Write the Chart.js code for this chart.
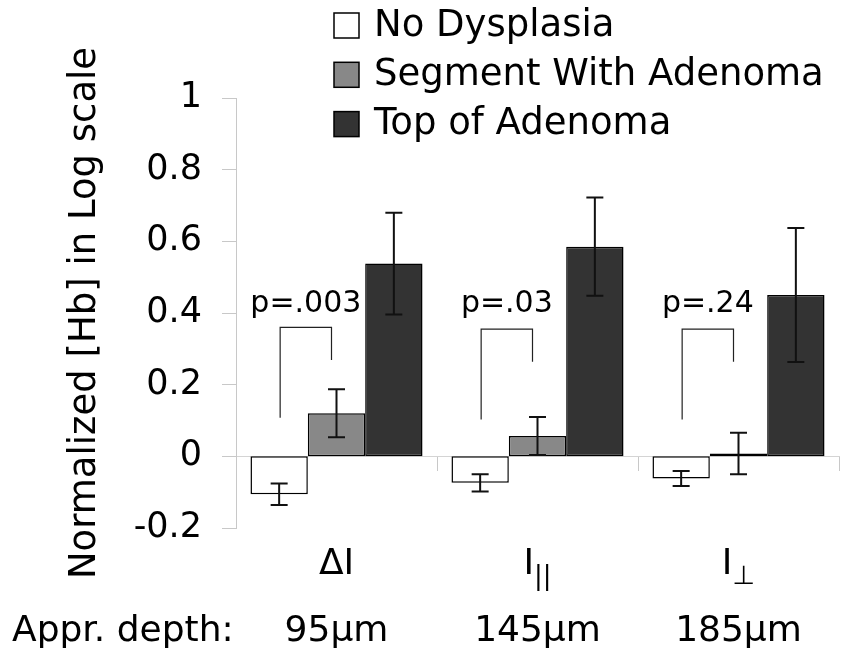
<!DOCTYPE html>
<html>
<head>
<meta charset="utf-8">
<script src="https://cdn.jsdelivr.net/npm/chart.js@4"></script>
<style>
  body { margin: 0; background: #fff; }
  #wrap { width: 849px; height: 672px; }
</style>
</head>
<body>
<div id="wrap"><canvas id="hbChart" width="849" height="672"></canvas></div>
<script>
// Data
const categories = ['ΔI', 'I||', 'I⊥'];
const categorySubscripts = ['', '||', '⊥'];
const depths = ['95μm', '145μm', '185μm'];
const seriesNames = ['No Dysplasia', 'Segment With Adenoma', 'Top of Adenoma'];

const noDysplasia = [-0.106, -0.074, -0.062];
const noDysplasiaErr = [0.03, 0.024, 0.021];
const segmentAdenoma = [0.12, 0.057, 0.008];
const segmentAdenomaErr = [0.067, 0.053, 0.058];
const topAdenoma = [0.538, 0.585, 0.45];
const topAdenomaErr = [0.142, 0.137, 0.187];

const pLabels = ['p=.003', 'p=.03', 'p=.24'];
const bracketTop = [0.36, 0.355, 0.355];
const bracketLeftEnd = [0.108, 0.103, 0.103];
const bracketRightEnd = [0.269, 0.264, 0.264];
const pLabelLevel = [0.404, 0.404, 0.404];

const errors = [noDysplasiaErr, segmentAdenomaErr, topAdenomaErr];
const FONT = "'DejaVu Sans', Verdana, sans-serif";

Chart.defaults.font.family = FONT;
Chart.defaults.color = '#000';

const extras = {
    id: 'extras',
    afterDatasetsDraw(chart) {
        const ctx = chart.ctx;
        const ys = chart.scales.y;
        ctx.save();

        // error bars
        ctx.strokeStyle = '#111';
        ctx.lineWidth = 2;
        chart.data.datasets.forEach((ds, d) => {
            const meta = chart.getDatasetMeta(d);
            meta.data.forEach((bar, i) => {
                const v = ds.data[i], e = errors[d][i];
                const yHi = ys.getPixelForValue(v + e);
                const yLo = ys.getPixelForValue(v - e);
                ctx.beginPath();
                ctx.moveTo(bar.x, yHi); ctx.lineTo(bar.x, yLo);
                ctx.moveTo(bar.x - 8.5, yHi); ctx.lineTo(bar.x + 8.5, yHi);
                ctx.moveTo(bar.x - 8.5, yLo); ctx.lineTo(bar.x + 8.5, yLo);
                ctx.stroke();
            });
        });

        // significance brackets
        const m0 = chart.getDatasetMeta(0), m1 = chart.getDatasetMeta(1);
        ctx.strokeStyle = '#222';
        ctx.lineWidth = 1.2;
        ctx.font = '30px ' + FONT;
        ctx.fillStyle = '#000';
        ctx.textAlign = 'center';
        ctx.textBaseline = 'alphabetic';
        pLabels.forEach((p, i) => {
            const xl = m0.data[i].x + 1;
            const xr = m1.data[i].x - 5;
            const yt = ys.getPixelForValue(bracketTop[i]);
            ctx.beginPath();
            ctx.moveTo(xl, ys.getPixelForValue(bracketLeftEnd[i]));
            ctx.lineTo(xl, yt);
            ctx.lineTo(xr, yt);
            ctx.lineTo(xr, ys.getPixelForValue(bracketRightEnd[i]));
            ctx.stroke();
            ctx.fillText(p, (xl + xr) / 2, ys.getPixelForValue(pLabelLevel[i]));
        });
        ctx.restore();
    },
    afterDraw(chart) {
        const ctx = chart.ctx;
        const xs = chart.scales.x;
        ctx.save();
        ctx.fillStyle = '#000';
        ctx.textBaseline = 'middle';

        // category labels with subscripts, and depths
        categories.forEach((cat, i) => {
            const x = xs.getPixelForValue(i);
            const sub = categorySubscripts[i];
            const main = sub ? cat.slice(0, cat.length - sub.length) : cat;
            ctx.font = '36px ' + FONT;
            const w1 = ctx.measureText(main).width;
            ctx.font = '26px ' + FONT;
            const w2 = sub ? ctx.measureText(sub).width : 0;
            const x0 = x - (w1 + w2) / 2;
            ctx.textAlign = 'left';
            ctx.font = '36px ' + FONT;
            ctx.fillText(main, x0, 565);
            if (sub) {
                ctx.font = '26px ' + FONT;
                ctx.fillText(sub, x0 + w1, 577);
            }
            ctx.font = '36px ' + FONT;
            ctx.textAlign = 'center';
            ctx.fillText(depths[i], x, 632);
        });
        ctx.textAlign = 'left';
        ctx.fillText('Appr. depth:', 12, 632);

        // legend
        chart.data.datasets.forEach((ds, d) => {
            const top = 13 + d * 49.3;
            ctx.fillStyle = ds.backgroundColor;
            ctx.fillRect(334, top, 25, 25);
            ctx.strokeStyle = '#000';
            ctx.lineWidth = 1.5;
            ctx.strokeRect(334, top, 25, 25);
            ctx.fillStyle = '#000';
            ctx.font = '37px ' + FONT;
            ctx.fillText(ds.label, 374, top + 13);
        });
        ctx.restore();
    }
};

const barStyle = { borderColor: '#000', borderWidth: 1.5, borderSkipped: false };

new Chart(document.getElementById('hbChart'), {
    type: 'bar',
    data: {
        labels: categories,
        datasets: [
            Object.assign({ label: seriesNames[0], data: noDysplasia, backgroundColor: '#ffffff' }, barStyle),
            Object.assign({ label: seriesNames[1], data: segmentAdenoma, backgroundColor: '#888888' }, barStyle),
            Object.assign({ label: seriesNames[2], data: topAdenoma, backgroundColor: '#333333' }, barStyle)
        ]
    },
    options: {
        responsive: false,
        animation: false,
        devicePixelRatio: 1,
        layout: { padding: { top: 98, right: 10, bottom: 144, left: 0 } },
        datasets: { bar: { categoryPercentage: 0.856, barPercentage: 1.0 } },
        plugins: { legend: { display: false }, tooltip: { enabled: false } },
        scales: {
            x: {
                position: { y: 0 },
                ticks: { display: false },
                grid: { drawOnChartArea: false, offset: true, tickLength: 14, color: '#c8c8c8' },
                border: { color: '#d4d4d4', width: 1 }
            },
            y: {
                min: -0.2,
                max: 1,
                ticks: {
                    stepSize: 0.2,
                    font: { size: 35 },
                    padding: 20,
                    color: '#000',
                    callback(value) {
                        const v = Math.round(value * 10) / 10;
                        return v === 0 ? '0' : String(v);
                    }
                },
                grid: { drawOnChartArea: false, tickLength: 14, color: '#c8c8c8' },
                border: { color: '#c8c8c8', width: 1 },
                title: {
                    display: true,
                    text: 'Normalized [Hb] in Log scale',
                    font: { size: 37 },
                    color: '#000',
                    padding: { top: 63, bottom: 0 }
                },
                afterFit(scale) { scale.width = 236; }
            }
        }
    },
    plugins: [extras]
});
</script>
</body>
</html>
